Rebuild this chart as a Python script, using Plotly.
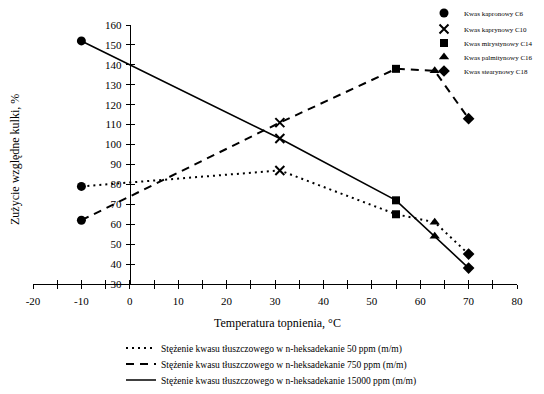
import plotly.graph_objects as go

acids = ["Kwas kapronowy C6", "Kwas kaprynowy C10", "Kwas mirystynowy C14",
         "Kwas palmitynowy C16", "Kwas stearynowy C18"]
temps = [-10, 31, 55, 63, 70]
wear_50 = [79, 87, 65, 61, 45]
wear_750 = [62, 111, 138, 137, 113]
wear_15000 = [152, 103, 72, 54, 38]
series_names = [
    "Stężenie kwasu tłuszczowego w n-heksadekanie 50 ppm (m/m)",
    "Stężenie kwasu tłuszczowego w n-heksadekanie 750 ppm (m/m)",
    "Stężenie kwasu tłuszczowego w n-heksadekanie 15000 ppm (m/m)",
]
x_ticks = list(range(-20, 81, 5))
y_ticks = list(range(30, 161, 10))

FONT = "Liberation Serif"
OFF = 8  # page body margin in the browser
W, H = 528, 378
L, R, T, B = 25, 19, 17, 102
pw, ph = W - L - R, H - T - B

def px_x(p):  # screen pixel -> paper x
    return (p - OFF - L) / pw

def px_y(p):  # screen pixel -> paper y
    return (H - B - (p - OFF)) / ph

def cx(p):  # screen pixel -> container x
    return (p - OFF) / W

def cy(p):  # screen pixel -> container y
    return 1 - (p - OFF) / H

fig = go.Figure()
legends = {}

# concentration series (line styles), one legend row each
dashes = ["2px,4px", "8px,6px", "solid"]
widths = [2, 2, 1.6]
row_y_bottom = [348, 364, 380]
for k, (name, vals, d, w) in enumerate(zip(series_names, [wear_50, wear_750, wear_15000], dashes, widths)):
    lg = f"legend{6 + k}"
    fig.add_trace(go.Scatter(x=temps, y=vals, mode="lines", name=name,
                             line=dict(color="black", dash=d, width=w),
                             legend=lg, hoverinfo="skip"))
    legends[lg] = dict(x=cx(121), y=cy(row_y_bottom[k]), xref="container",
                       yref="container", xanchor="left",
                       yanchor="middle", font=dict(size=9.5, family=FONT),
                       bgcolor="rgba(0,0,0,0)", itemwidth=30)

# fatty acids (marker symbols), one legend row each
symbols = ["circle", "x-thin-open", "square", "triangle-up", "diamond"]
sizes = [9, 9, 8, 9, 9]
row_y_top = [13, 29, 43, 57, 71]
for i, (acid, sym, sz) in enumerate(zip(acids, symbols, sizes)):
    lg = "legend" if i == 0 else f"legend{i + 1}"
    fig.add_trace(go.Scatter(
        x=[temps[i]] * 3, y=[wear_50[i], wear_750[i], wear_15000[i]],
        mode="markers", name=acid, legend=lg,
        marker=dict(symbol=sym, size=sz, color="black",
                    line=dict(color="black", width=2 if "x" in sym else 0))))
    legends[lg] = dict(x=cx(424), y=cy(row_y_top[i]), xref="container",
                       yref="container", xanchor="left",
                       yanchor="middle", font=dict(size=7, family=FONT),
                       bgcolor="rgba(0,0,0,0)", itemwidth=30)

# dummy trace for overlay axes (crossing ticks)
fig.add_trace(go.Scatter(x=[None], y=[None], xaxis="x2", yaxis="y2",
                         showlegend=False, hoverinfo="skip"))

axis_common = dict(showgrid=False, zeroline=False, ticklen=4, tickcolor="black",
                   tickwidth=1)
fig.update_layout(
    width=W, height=H,
    margin=dict(l=L, r=R, t=T, b=B, autoexpand=False),
    paper_bgcolor="white", plot_bgcolor="white",
    font=dict(family=FONT, color="black", size=11),
    xaxis=dict(range=[-20, 80], tickvals=x_ticks,
               ticktext=[str(v) if v % 10 == 0 else "" for v in x_ticks],
               ticks="outside", showline=True, linecolor="black", linewidth=1,
               tickfont=dict(size=11), anchor="y", ticklabelstandoff=3,
               **axis_common),
    yaxis=dict(range=[30, 160], tickvals=y_ticks, ticks="outside",
               showline=True, linecolor="black", linewidth=1,
               anchor="free", position=0.2, tickfont=dict(size=11),
               ticklabelstandoff=2, **axis_common),
    xaxis2=dict(range=[-20, 80], overlaying="x", anchor="y2",
                tickvals=x_ticks, ticks="inside",
                showticklabels=False, showline=False, **axis_common),
    yaxis2=dict(range=[30, 160], overlaying="y", anchor="free", position=0.2,
                tickvals=y_ticks, ticks="inside", showticklabels=False,
                showline=False, **axis_common),
    annotations=[
        dict(text="Zużycie względne kulki, %", x=px_x(15), y=px_y(160),
             xref="paper", yref="paper", showarrow=False, textangle=-90,
             xanchor="center", yanchor="middle",
             font=dict(size=12, family=FONT)),
        dict(text="Temperatura topnienia, °C", x=px_x(277), y=px_y(323),
             xref="paper", yref="paper", showarrow=False,
             xanchor="center", yanchor="middle",
             font=dict(size=12, family=FONT)),
    ],
    showlegend=True,
    **legends,
)

fig.write_html("out.html")
